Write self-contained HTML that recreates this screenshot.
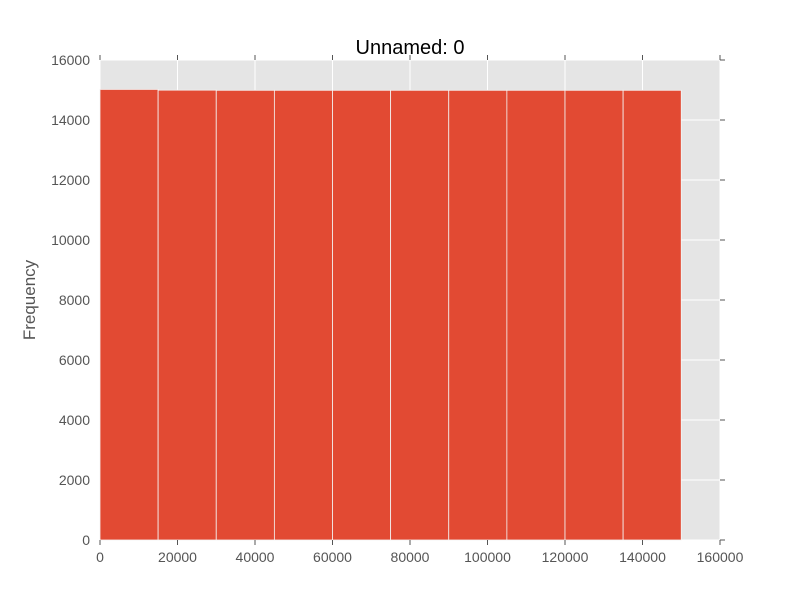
<!DOCTYPE html>
<html><head><meta charset="utf-8"><style>
body{margin:0;background:#fff;}
svg{font-family:"Liberation Sans","DejaVu Sans",sans-serif;}
</style></head><body>
<svg id="chart" width="800" height="600">
<rect x="100" y="60" width="620" height="480" fill="#e5e5e5"/>
<g id="grid"></g><g id="bars"></g><g id="axes"></g>
<text x="410" y="54" text-anchor="middle" font-size="20" fill="#000">Unnamed: 0</text>
<text x="35" y="300" text-anchor="middle" font-size="17" fill="#555" transform="rotate(-90 35 300)">Frequency</text>
</svg>
<script>
const binEdges=[0,15000,30000,45000,60000,75000,90000,105000,120000,135000,150000];
const counts=[15020,14995,14990,14990,14990,14990,14990,14990,14990,14990];
const xTicks=[0,20000,40000,60000,80000,100000,120000,140000,160000];
const yTicks=[0,2000,4000,6000,8000,10000,12000,14000,16000];
const NS="http://www.w3.org/2000/svg";
const x=v=>100+v/160000*620, y=v=>540-v/16000*480;
function mk(t,a,p){const e=document.createElementNS(NS,t);for(const k in a)e.setAttribute(k,a[k]);p.appendChild(e);return e;}
const grid=document.getElementById('grid'),bars=document.getElementById('bars'),axes=document.getElementById('axes');
xTicks.forEach(v=>{
 const g=mk('line',{x1:x(v),x2:x(v),y1:60,y2:540,stroke:'#fff','stroke-width':1},grid);
 
 
 mk('line',{x1:x(v),x2:x(v),y1:55,y2:60,stroke:'#555'},axes);
 mk('line',{x1:x(v),x2:x(v),y1:540,y2:545,stroke:'#555'},axes);
 const t=mk('text',{x:x(v),y:562,'text-anchor':'middle','font-size':14,fill:'#555'},axes);
 t.textContent=v;
 
 
});
yTicks.forEach(v=>{
 const g=mk('line',{x1:100,x2:720,y1:y(v),y2:y(v),stroke:'#fff','stroke-width':1},grid);
 
 
 mk('line',{x1:720,x2:725,y1:y(v),y2:y(v),stroke:'#555'},axes);
 const t=mk('text',{x:90,y:y(v)+5,'text-anchor':'end','font-size':14,fill:'#555'},axes);
 t.textContent=v;
 
 
});
counts.forEach((c,i)=>{
 const b=mk('rect',{x:x(binEdges[i]),y:y(c),width:x(binEdges[i+1])-x(binEdges[i]),height:540-y(c),fill:'#e24a33',stroke:'#f4f4f4','stroke-width':0.8},bars);
 
 
});
</script>
</body></html>
